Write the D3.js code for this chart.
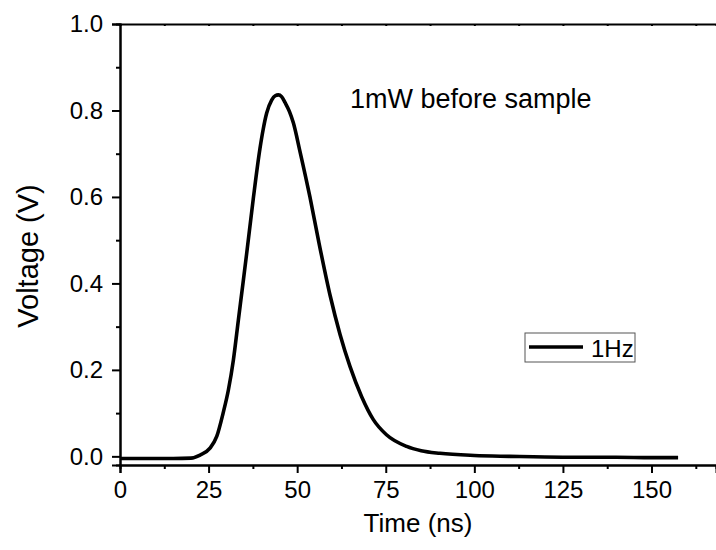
<!DOCTYPE html>
<html>
<head>
<meta charset="utf-8">
<script src="https://cdn.jsdelivr.net/npm/d3@7"></script>
<style>
  body { margin: 0; background: #fff; }
  text { font-family: "Liberation Sans", Arial, sans-serif; fill: #000; }
</style>
</head>
<body>
<div id="chart"></div>
<script>
// pulse trace
var timeNs = [0, 5, 10, 15, 20, 22.6, 25.4, 27.3, 29.1, 30.6, 32.0, 33.4, 34.7, 35.7, 37.6, 39.5, 40.4, 41.4, 42.8, 43.8, 44.7, 45.6, 46.6, 47.8,
              48.9, 50.8, 53.6, 56.0, 59.3, 62.1, 64.9, 68.2, 71.5, 75.2, 80.9, 85, 90.3, 100, 110, 125, 140, 150, 157.5];
var voltage = [-0.005, -0.005, -0.005, -0.005, -0.004, 0.003, 0.019, 0.046, 0.100, 0.154, 0.223, 0.315, 0.400, 0.466, 0.595, 0.712, 0.756, 0.794, 0.824, 0.834, 0.836, 0.832, 0.818, 0.798,
               0.772, 0.705, 0.600, 0.500, 0.372, 0.282, 0.208, 0.138, 0.085, 0.050, 0.023, 0.013, 0.007, 0.002, 0.000, -0.002, -0.002, -0.003, -0.003];
var xMajor = [0, 25, 50, 75, 100, 125, 150];
var xMinor = [12.5, 37.5, 62.5, 87.5, 112.5, 137.5, 162.5];
var yMajor = [0.0, 0.2, 0.4, 0.6, 0.8, 1.0];
var yMinor = [0.1, 0.3, 0.5, 0.7, 0.9];
var seriesName = "1Hz";
var note = "1mW before sample";

var W = 716, H = 550;
var mLeft = 120, mRight = 716, mTop = 24, mBottom = 465;

var x = d3.scaleLinear().domain([0, 168.2]).range([mLeft, mRight]);
var y = d3.scaleLinear().domain([-0.02, 1.0]).range([mBottom, mTop]);

var svg = d3.select("#chart").append("svg")
    .attr("width", W)
    .attr("height", H);

var data = timeNs.map(function(t, i) { return {t: t, v: voltage[i]}; });

// trace
var line = d3.line()
    .x(function(d) { return x(d.t); })
    .y(function(d) { return y(d.v); })
    .curve(d3.curveMonotoneX);

svg.append("path")
    .datum(data)
    .attr("fill", "none")
    .attr("stroke", "#000")
    .attr("stroke-width", 3.6)
    .attr("stroke-linejoin", "round")
    .attr("d", line);

// bottom axis
svg.append("g")
    .attr("transform", "translate(0," + mBottom + ")")
    .call(d3.axisBottom(x).tickValues(xMajor).tickSize(8).tickPadding(8).tickFormat(d3.format("d")));
svg.append("g")
    .attr("transform", "translate(0," + mBottom + ")")
    .call(d3.axisBottom(x).tickValues(xMinor).tickSize(4).tickFormat(""));

// left axis
svg.append("g")
    .attr("transform", "translate(" + mLeft + ",0)")
    .call(d3.axisLeft(y).tickValues(yMajor).tickSize(8).tickPadding(9).tickFormat(d3.format(".1f")));
svg.append("g")
    .attr("transform", "translate(" + mLeft + ",0)")
    .call(d3.axisLeft(y).tickValues(yMinor).tickSize(4).tickFormat(""));

// top axis, small inward ticks
svg.append("g")
    .attr("transform", "translate(0," + mTop + ")")
    .call(d3.axisBottom(x).tickValues(xMajor.concat(xMinor)).tickSize(2).tickFormat(""));

svg.selectAll(".domain").attr("stroke", "#000").attr("stroke-width", 2);
svg.selectAll(".tick line").attr("stroke", "#000").attr("stroke-width", 2);
svg.selectAll(".tick text").style("font-size", "24px").attr("fill", "#000");

// axis titles
svg.append("text")
    .attr("x", 418)
    .attr("y", 532)
    .attr("text-anchor", "middle")
    .style("font-size", "26px")
    .text("Time (ns)");

svg.append("text")
    .attr("transform", "translate(38,256) rotate(-90)")
    .attr("text-anchor", "middle")
    .style("font-size", "29px")
    .text("Voltage (V)");

// annotation
svg.append("text")
    .attr("x", 350)
    .attr("y", 108)
    .style("font-size", "27px")
    .text(note);

// legend
var lg = svg.append("g");
lg.append("rect")
    .attr("x", 525).attr("y", 333)
    .attr("width", 110).attr("height", 29)
    .attr("fill", "#fff")
    .attr("stroke", "#555")
    .attr("stroke-width", 1);
lg.append("line")
    .attr("x1", 529).attr("x2", 583)
    .attr("y1", 347).attr("y2", 347)
    .attr("stroke", "#000").attr("stroke-width", 3.5);
lg.append("text")
    .attr("x", 591).attr("y", 357)
    .style("font-size", "24px")
    .text(seriesName);
</script>
</body>
</html>
